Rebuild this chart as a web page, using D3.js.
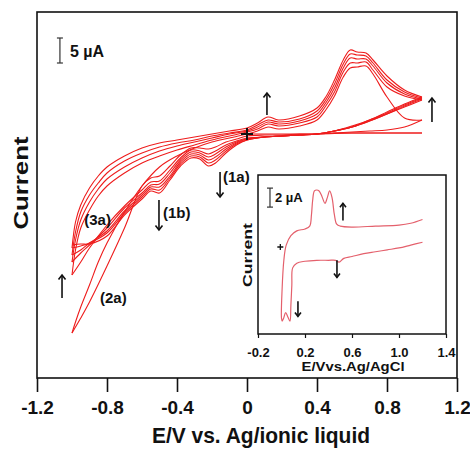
<!DOCTYPE html>
<html>
<head>
<meta charset="utf-8">
<script src="https://cdn.jsdelivr.net/npm/d3@7"></script>
<style>
body { margin: 0; background: #fff; }
text { font-family: "Liberation Sans", Arial, sans-serif; font-weight: bold; fill: #111; }
</style>
</head>
<body>
<script>
// main CV: potentials (V) of the positive-going and negative-going scans
var fwdE = [-1.0, -0.98, -0.95, -0.9, -0.85, -0.8, -0.7, -0.6, -0.5, -0.4, -0.3, -0.2, -0.1, 0, 0.06, 0.12, 0.18, 0.3, 0.4, 0.45, 0.5, 0.55, 0.59, 0.63, 0.68, 0.72, 0.8, 0.9, 1.0];
var revE = [1.0, 0.9, 0.8, 0.7, 0.6, 0.5, 0.4, 0.3, 0.2, 0.1, 0, -0.06, -0.12, -0.18, -0.22, -0.27, -0.32, -0.38, -0.44, -0.5, -0.55, -0.6, -0.7, -0.8, -0.9, -0.95, -1.0];

// first sweep from the rest potential
var startE = [0, 0.2, 0.4, 0.6, 0.8, 1.0];
var startI = [0, 0, 0, 0.2, 0.2, 0.2];

// currents (uA), cycle by cycle
var fwd1 = [-39.8, -37.6, -34.6, -30.2, -25.6, -21.8, -15.6, -10.4, -6.6, -4.4, -2.8, -1.6, -0.8, 0, 0.6, 1.4, 1.0, 1.6, 2.8, 4.8, 7.6, 11.4, 13.2, 13.4, 13.6, 12.0, 7.4, 3.2, 2.8];
var fwd2 = [-28.2, -23.2, -18.8, -15.2, -12.4, -10.4, -7.8, -5.8, -4.4, -3.2, -2.2, -1.2, -0.4, 0.4, 1.0, 2.0, 1.6, 2.2, 3.4, 5.6, 8.4, 12.4, 14.2, 14.2, 14.4, 12.8, 9.4, 7.6, 6.8];
var fwd3 = [-25.6, -21.2, -17.2, -13.6, -11.0, -9.0, -6.6, -4.8, -3.4, -2.4, -1.6, -0.8, 0, 0.6, 1.4, 2.4, 2.0, 2.6, 4.0, 6.2, 9.2, 13.2, 15.2, 15.0, 15.0, 13.6, 10.2, 8.0, 7.0];
var fwd4 = [-24.2, -19.6, -15.6, -12.2, -9.8, -7.8, -5.4, -3.8, -2.6, -1.8, -1.2, -0.4, 0.2, 0.8, 1.8, 2.8, 2.4, 3.0, 4.6, 6.8, 10.0, 14.0, 16.0, 15.8, 15.6, 14.2, 10.8, 8.4, 7.2];
var fwd5 = [-22.8, -17.6, -14.2, -10.8, -8.4, -6.6, -4.4, -2.8, -1.8, -1.2, -0.6, 0, 0.6, 1.2, 2.2, 3.4, 2.8, 3.6, 5.2, 7.4, 10.8, 14.8, 16.8, 16.4, 16.2, 14.8, 11.6, 8.8, 7.4];

var rev1 = [0.2, 0.2, 0.2, 0.2, 0.2, 0.2, 0, 0, -0.2, -0.2, -0.4, -1.0, -1.6, -2.6, -3.0, -2.8, -2.8, -4.2, -6.4, -8.4, -8.8, -10.4, -18.8, -26.4, -33.6, -36.8, -39.8];
var rev2 = [2.8, 1.4, 0.8, 0.6, 0.4, 0.2, 0, -0.2, -0.4, -0.6, -0.8, -1.4, -2.2, -3.4, -4.0, -3.4, -3.2, -4.8, -7.2, -9.4, -9.6, -11.2, -14.4, -18.2, -22.8, -25.6, -28.2];
var rev3 = [6.8, 5.4, 4.0, 2.6, 1.4, 0.6, 0, -0.2, -0.4, -0.6, -1.0, -1.6, -2.6, -4.0, -4.6, -3.8, -3.6, -5.2, -7.8, -10.0, -10.2, -11.8, -14.8, -18.8, -22.2, -23.8, -25.6];
var rev4 = [7.0, 5.6, 4.0, 2.6, 1.4, 0.6, 0, -0.2, -0.4, -0.6, -1.0, -1.8, -3.0, -4.6, -5.2, -4.2, -4.0, -5.6, -8.4, -10.6, -10.6, -12.2, -15.4, -19.4, -21.8, -23.2, -24.2];
var rev5 = [7.2, 5.8, 4.2, 2.8, 1.4, 0.6, 0, -0.2, -0.4, -0.6, -1.2, -2.0, -3.4, -5.2, -5.8, -4.6, -4.4, -6.0, -8.8, -11.2, -11.0, -12.6, -15.8, -19.8, -21.8, -22.4, -22.8];
var rev6 = [7.4, 6.0, 4.4, 2.8, 1.6, 0.6, 0, -0.2, -0.4, -0.6, -1.2, -2.2, -3.8, -5.8, -6.4, -5.0, -4.8, -6.4, -9.2, -11.8, -11.4, -13.0, -16.2, -20.4, -22.0, -22.0, -22.2];

var mainTicks = [-1.2, -0.8, -0.4, 0, 0.4, 0.8, 1.2];
var mainTickLabels = ["-1.2", "-0.8", "-0.4", "0", "0.4", "0.8", "1.2"];

// inset CV (vs Ag/AgCl)
var insetUpE = [0.0, 0.005, 0.02, 0.04, 0.08, 0.13, 0.2, 0.24, 0.255, 0.265, 0.28, 0.3, 0.32, 0.345, 0.37, 0.39, 0.41, 0.43, 0.45, 0.47, 0.5, 0.6, 0.8, 1.0, 1.1, 1.2];
var insetUpI = [-7.5, -4.5, -1.4, 0.2, 1.2, 1.7, 1.9, 2.2, 3.4, 4.9, 5.9, 6.0, 5.9, 5.3, 4.6, 5.2, 5.9, 5.2, 3.4, 2.4, 2.2, 2.1, 2.2, 2.3, 2.5, 2.9];
var insetLowE = [1.2, 1.1, 1.0, 0.9, 0.8, 0.7, 0.6, 0.53, 0.49, 0.46, 0.4, 0.3, 0.2, 0.13, 0.095, 0.088, 0.08, 0.072, 0.055, 0.035, 0.018, 0.006, 0.0];
var insetLowI = [0.5, 0.2, -0.1, -0.3, -0.5, -0.7, -1.0, -1.2, -1.6, -1.4, -1.4, -1.4, -1.5, -1.7, -2.2, -4.0, -6.1, -7.8, -7.4, -6.9, -7.5, -7.8, -7.5];

var insetTicks = [-0.2, 0.2, 0.6, 1.0, 1.4];
var insetTickLabels = ["-0.2", "0.2", "0.6", "1.0", "1.4"];

var svg = d3.select("body").append("svg")
    .attr("width", 470)
    .attr("height", 450)
    .style("background", "#fff");

var x = d3.scaleLinear().domain([-1.2, 1.2]).range([37, 457]);
var y = d3.scaleLinear().domain([-48.8, 24.4]).range([378, 12]);

var line = d3.line()
    .x(function(d) { return x(d[0]); })
    .y(function(d) { return y(d[1]); })
    .curve(d3.curveCatmullRom.alpha(0.5));

var scans = [
    [startE, startI],
    [revE, rev1], [fwdE, fwd1],
    [revE, rev2], [fwdE, fwd2],
    [revE, rev3], [fwdE, fwd3],
    [revE, rev4], [fwdE, fwd4],
    [revE, rev5], [fwdE, fwd5],
    [revE, rev6]
];

svg.append("g").selectAll("path")
    .data(scans)
    .enter()
    .append("path")
    .attr("d", function(s) { return line(s[0].map(function(e, i) { return [e, s[1][i]]; })); })
    .attr("fill", "none")
    .attr("stroke", "#ee1c1c")
    .attr("stroke-width", 1.1);

// frame + bottom axis
svg.append("rect")
    .attr("x", 37).attr("y", 12)
    .attr("width", 420).attr("height", 366)
    .attr("fill", "none")
    .attr("stroke", "#111")
    .attr("stroke-width", 1.6);

var xAxis = svg.append("g")
    .attr("transform", "translate(0,378)")
    .call(d3.axisBottom(x).tickValues(mainTicks).tickSize(14)
        .tickFormat(function(d, i) { return mainTickLabels[i]; }));
xAxis.select(".domain").remove();
xAxis.selectAll(".tick line").attr("stroke", "#111").attr("stroke-width", 1.6);
xAxis.selectAll(".tick text")
    .attr("y", 23)
    .style("font-size", "19px");

svg.append("text")
    .attr("x", 261).attr("y", 443)
    .attr("text-anchor", "middle")
    .attr("textLength", 218)
    .attr("lengthAdjust", "spacingAndGlyphs")
    .style("font-size", "22px")
    .text("E/V vs. Ag/ionic liquid");

svg.append("text")
    .attr("transform", "translate(28,183) rotate(-90)")
    .attr("text-anchor", "middle")
    .attr("textLength", 93)
    .attr("lengthAdjust", "spacingAndGlyphs")
    .style("font-size", "20px")
    .text("Current");

function arrow(g, px, y0, y1, head) {
    var dir = y1 < y0 ? 1 : -1;
    g.append("line")
        .attr("x1", px).attr("x2", px)
        .attr("y1", y0).attr("y2", y1)
        .attr("stroke", "#111").attr("stroke-width", 1.6);
    g.append("polyline")
        .attr("points", [[px - head, y1 + dir * head * 1.3], [px, y1], [px + head, y1 + dir * head * 1.3]].join(" "))
        .attr("fill", "none")
        .attr("stroke", "#111").attr("stroke-width", 1.6);
}

function scaleBar(g, px, y0, y1) {
    g.append("line").attr("x1", px).attr("x2", px).attr("y1", y0).attr("y2", y1)
        .attr("stroke", "#333").attr("stroke-width", 1.2);
    [y0, y1].forEach(function(v) {
        g.append("line").attr("x1", px - 3).attr("x2", px + 3).attr("y1", v).attr("y2", v)
            .attr("stroke", "#333").attr("stroke-width", 1.2);
    });
}

var ann = svg.append("g");

// arrows: [E, I from, I to]
var mainArrows = [[0.114, 3.8, 8.2], [1.057, 2.4, 7.2], [-0.154, -7.6, -12.6], [-0.503, -13.2, -19.2], [-1.057, -32.8, -28.2]];
mainArrows.forEach(function(a) { arrow(ann, x(a[0]), y(a[1]), y(a[2]), 3.5); });

var mainLabels = [["(1a)", -0.137, -9.6], ["(1b)", -0.48, -16.8], ["(3a)", -0.93, -18.2], ["(2a)", -0.84, -33.8]];
ann.selectAll("text.lab")
    .data(mainLabels)
    .enter()
    .append("text")
    .attr("class", "lab")
    .attr("x", function(d) { return x(d[1]); })
    .attr("y", function(d) { return y(d[2]); })
    .style("font-size", "15px")
    .text(function(d) { return d[0]; });

// start marker
ann.append("path")
    .attr("d", "M" + (x(0) - 6) + "," + y(0) + "h12M" + x(0) + "," + (y(0) - 6) + "v12")
    .attr("stroke", "#111").attr("stroke-width", 2);

scaleBar(ann, x(-1.069), y(19.2), y(14.2));
ann.append("text").attr("x", 70).attr("y", 57).style("font-size", "16px").text("5 µA");

// ---- inset ----
var ix = d3.scaleLinear().domain([-0.2, 1.4]).range([258, 446]);
var iy = d3.scaleLinear().domain([-9.16, 7.58]).range([334, 175]);

var inset = svg.append("g");
inset.append("rect")
    .attr("x", 258).attr("y", 175)
    .attr("width", 188).attr("height", 159)
    .attr("fill", "#fff")
    .attr("stroke", "#111")
    .attr("stroke-width", 1.5);

var iline = d3.line()
    .x(function(d) { return ix(d[0]); })
    .y(function(d) { return iy(d[1]); })
    .curve(d3.curveCatmullRom.alpha(0.5));

var insetPts = insetLowE.map(function(e, i) { return [e, insetLowI[i]]; })
    .concat(insetUpE.map(function(e, i) { return [e, insetUpI[i]]; }).slice(1));

inset.append("path")
    .attr("d", iline(insetPts))
    .attr("fill", "none")
    .attr("stroke", "#e4606c")
    .attr("stroke-width", 1.2);

var iAxis = inset.append("g")
    .attr("transform", "translate(0,334)")
    .call(d3.axisBottom(ix).tickValues(insetTicks).tickSize(4)
        .tickFormat(function(d, i) { return insetTickLabels[i]; }));
iAxis.select(".domain").remove();
iAxis.selectAll(".tick line").attr("stroke", "#111").attr("stroke-width", 1.2);
iAxis.selectAll(".tick text").attr("y", 14).style("font-size", "13px");

inset.append("text")
    .attr("x", 353).attr("y", 371)
    .attr("text-anchor", "middle")
    .attr("textLength", 103)
    .attr("lengthAdjust", "spacingAndGlyphs")
    .style("font-size", "13px")
    .text("E/Vvs.Ag/AgCl");

inset.append("text")
    .attr("transform", "translate(252,255) rotate(-90)")
    .attr("text-anchor", "middle")
    .attr("textLength", 64)
    .attr("lengthAdjust", "spacingAndGlyphs")
    .style("font-size", "12px")
    .text("Current");

var insetArrows = [[0.523, 2.8, 4.6], [0.472, -1.4, -3.2], [0.14, -5.7, -7.3]];
insetArrows.forEach(function(a) { arrow(inset, ix(a[0]), iy(a[1]), iy(a[2]), 3); });

inset.append("path")
    .attr("d", "M" + (ix(-0.01) - 3) + "," + iy(0) + "h6M" + ix(-0.01) + "," + (iy(0) - 3) + "v6")
    .attr("stroke", "#111").attr("stroke-width", 1.3);

scaleBar(inset, ix(-0.098), iy(6.2), iy(4.2));
inset.append("text").attr("x", 275).attr("y", 202).style("font-size", "13px").text("2 µA");
</script>
</body>
</html>
